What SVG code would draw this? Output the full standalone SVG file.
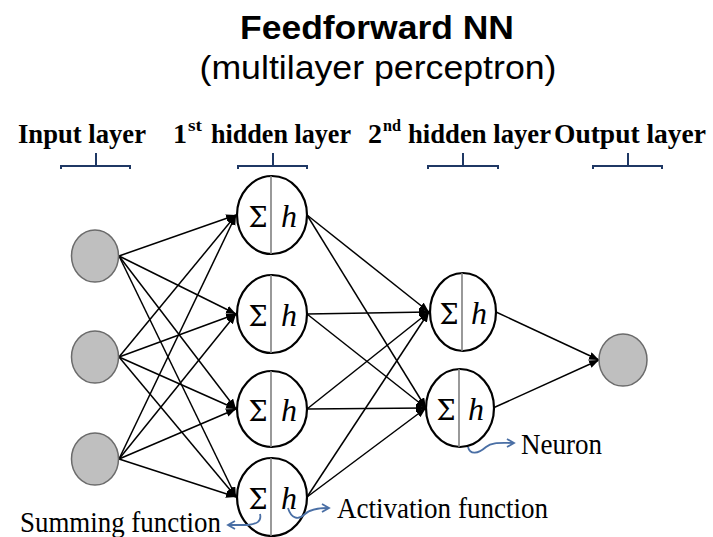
<svg xmlns="http://www.w3.org/2000/svg" width="713" height="537" viewBox="0 0 713 537">
<style>
.title{font-family:"Liberation Sans",Arial,sans-serif;font-size:34px;fill:#000;text-anchor:middle}
.layer{font-family:"Liberation Serif","Times New Roman",serif;font-size:28px;font-weight:bold;fill:#000}
.sup{font-family:"Liberation Serif","Times New Roman",serif;font-size:17px;font-weight:bold;fill:#000}
.lbl{font-family:"Liberation Serif","Times New Roman",serif;font-size:30px;fill:#000}
.in{fill:#bfbfbf;stroke:#6b6b6b;stroke-width:1.5}
.neu{fill:#fff;stroke:#000;stroke-width:2.2}
.div{stroke:#808080;stroke-width:1.6}
.sig{font-family:"DejaVu Serif","Liberation Serif",serif;font-size:27px;fill:#000;text-anchor:middle}
.h{font-family:"Liberation Serif","Times New Roman",serif;font-size:32px;font-style:italic;fill:#000;text-anchor:middle}
.edge{stroke:#000;stroke-width:1.5;fill:none;marker-end:url(#ah)}
.br{stroke:#1f3864;stroke-width:2;fill:none}
.sq{stroke:#4a6fa5;stroke-width:1.8;fill:none}
</style>
<defs>
<marker id="ah" markerUnits="userSpaceOnUse" markerWidth="12" markerHeight="10" refX="10" refY="4" orient="auto">
<path d="M0,0 L10,4 L0,8 Z" fill="#000"/>
</marker>
</defs>

<g id="titles">
<text class="title" x="377" y="39" font-weight="bold" textLength="274" lengthAdjust="spacingAndGlyphs">Feedforward NN</text>
<text class="title" x="378" y="79" textLength="357" lengthAdjust="spacingAndGlyphs">(multilayer perceptron)</text>
</g>

<g id="layer-labels">
<text class="layer" x="18" y="143" textLength="128" lengthAdjust="spacingAndGlyphs">Input layer</text>
<text class="layer" x="173" y="143">1</text>
<text class="sup" x="188" y="131" textLength="14" lengthAdjust="spacingAndGlyphs">st</text>
<text class="layer" x="211" y="143" textLength="140" lengthAdjust="spacingAndGlyphs">hidden layer</text>
<text class="layer" x="368" y="143">2</text>
<text class="sup" x="383" y="131" textLength="18" lengthAdjust="spacingAndGlyphs">nd</text>
<text class="layer" x="408" y="143" textLength="143" lengthAdjust="spacingAndGlyphs">hidden layer</text>
<text class="layer" x="554" y="143" textLength="152" lengthAdjust="spacingAndGlyphs">Output layer</text>
</g>

<g id="brackets">
<path class="br" d="M61,169 L61,166 L130,166 L130,169 M96,166 L96,153"/>
<path class="br" d="M238,169 L238,166 L307,166 L307,169 M273,166 L273,153"/>
<path class="br" d="M428,169 L428,166 L498,166 L498,169 M463,166 L463,153"/>
<path class="br" d="M593,169 L593,166 L662,166 L662,169 M628,166 L628,153"/>
</g>

<g id="connectors">
<line class="edge" x1="119" y1="256" x2="236" y2="215"/>
<line class="edge" x1="119" y1="256" x2="236" y2="314"/>
<line class="edge" x1="119" y1="256" x2="236" y2="409"/>
<line class="edge" x1="119" y1="256" x2="236" y2="497"/>
<line class="edge" x1="119" y1="357" x2="236" y2="215"/>
<line class="edge" x1="119" y1="357" x2="236" y2="314"/>
<line class="edge" x1="119" y1="357" x2="236" y2="409"/>
<line class="edge" x1="119" y1="357" x2="236" y2="497"/>
<line class="edge" x1="119" y1="459" x2="236" y2="215"/>
<line class="edge" x1="119" y1="459" x2="236" y2="314"/>
<line class="edge" x1="119" y1="459" x2="236" y2="409"/>
<line class="edge" x1="119" y1="459" x2="236" y2="497"/>
<line class="edge" x1="307" y1="215" x2="429" y2="312"/>
<line class="edge" x1="307" y1="215" x2="426" y2="408"/>
<line class="edge" x1="307" y1="314" x2="429" y2="312"/>
<line class="edge" x1="307" y1="314" x2="426" y2="408"/>
<line class="edge" x1="307" y1="409" x2="429" y2="312"/>
<line class="edge" x1="307" y1="409" x2="426" y2="408"/>
<line class="edge" x1="307" y1="497" x2="429" y2="312"/>
<line class="edge" x1="307" y1="497" x2="426" y2="408"/>
<line class="edge" x1="496" y1="312" x2="599" y2="360"/>
<line class="edge" x1="493" y1="408" x2="599" y2="360"/>
</g>

<g id="input1"><ellipse class="in" cx="95" cy="256" rx="23.5" ry="26"/></g>
<g id="input2"><ellipse class="in" cx="95" cy="357" rx="23.5" ry="26"/></g>
<g id="input3"><ellipse class="in" cx="95" cy="459" rx="23.5" ry="26"/></g>

<g id="h1n1"><ellipse class="neu" cx="272" cy="215" rx="35" ry="39"/><line class="div" x1="271" y1="176" x2="271" y2="254"/><text class="sig" x="258" y="227">Σ</text><text class="h" x="289" y="227">h</text></g>
<g id="h1n2"><ellipse class="neu" cx="272" cy="314" rx="35" ry="39"/><line class="div" x1="271" y1="275" x2="271" y2="353"/><text class="sig" x="258" y="326">Σ</text><text class="h" x="289" y="326">h</text></g>
<g id="h1n3"><ellipse class="neu" cx="272" cy="409" rx="35" ry="38"/><line class="div" x1="271" y1="371" x2="271" y2="447"/><text class="sig" x="258" y="421">Σ</text><text class="h" x="289" y="421">h</text></g>
<g id="h1n4"><ellipse class="neu" cx="272" cy="497" rx="35" ry="39"/><line class="div" x1="271" y1="458" x2="271" y2="536"/><text class="sig" x="258" y="509">Σ</text><text class="h" x="289" y="509">h</text></g>

<g id="h2n1"><ellipse class="neu" cx="463" cy="312" rx="33" ry="39"/><line class="div" x1="462" y1="273" x2="462" y2="351"/><text class="sig" x="449" y="324">Σ</text><text class="h" x="479" y="324">h</text></g>
<g id="h2n2"><ellipse class="neu" cx="460" cy="408" rx="34" ry="39"/><line class="div" x1="459" y1="369" x2="459" y2="447"/><text class="sig" x="446" y="420">Σ</text><text class="h" x="476" y="420">h</text></g>

<g id="output1"><ellipse class="in" cx="623" cy="360" rx="24" ry="26"/></g>

<g id="annotations">
<path class="sq" d="M468,447 C470,455 478,454 486,447 C492,442 500,443 513,443"/>
<path class="sq" d="M507,439 L514,443 L507,447"/>
<text class="lbl" x="521" y="454" textLength="81" lengthAdjust="spacingAndGlyphs">Neuron</text>

<path class="sq" d="M288,508 C291,518 298,521 305,514 C310,509 318,508 328,508"/>
<path class="sq" d="M322,504 L329,508 L322,512"/>
<text class="lbl" x="337" y="518" textLength="211" lengthAdjust="spacingAndGlyphs">Activation function</text>

<path class="sq" d="M260,514 C262,522 256,524 248,525 L229,525"/>
<path class="sq" d="M235,521 L228,525 L235,529"/>
<text class="lbl" x="20" y="532" textLength="201" lengthAdjust="spacingAndGlyphs">Summing function</text>
</g>
</svg>
